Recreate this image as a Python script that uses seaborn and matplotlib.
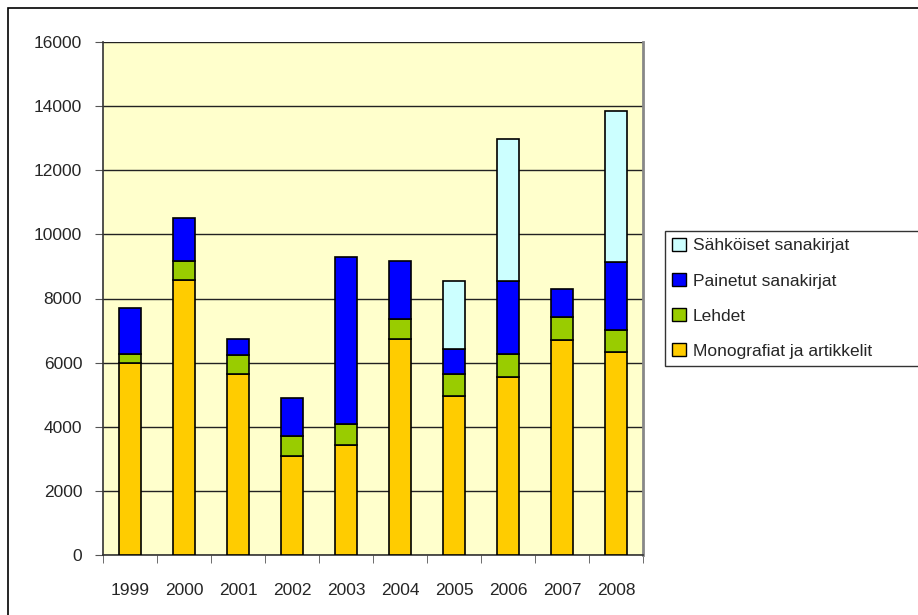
import numpy as np
import matplotlib
matplotlib.use('Agg')
import matplotlib.pyplot as plt
import matplotlib.patches as mpatches
import seaborn as sns

# Chart data
years = ['1999', '2000', '2001', '2002', '2003', '2004', '2005', '2006', '2007', '2008']
monografiat = [6000, 8580, 5650, 3090, 3430, 6730, 4960, 5540, 6720, 6330]
lehdet = [270, 590, 590, 620, 650, 630, 680, 730, 690, 680]
painetut = [1430, 1340, 500, 1190, 5210, 1820, 800, 2270, 890, 2120]
sahkoiset = [0, 0, 0, 0, 0, 0, 2100, 4430, 0, 4720]

series_names = ['Monografiat ja artikkelit', 'Lehdet', 'Painetut sanakirjat', 'Sähköiset sanakirjat']
colors = ['#FFCC00', '#99CC00', '#0000FF', '#CCFFFF']

sns.set_style('white')
plt.rcParams['font.family'] = ['Liberation Sans', 'DejaVu Sans']

fig = plt.figure(figsize=(9.18, 6.15), dpi=100)
ax = fig.add_axes([103 / 918, 60 / 615, 540 / 918, 513 / 615])
ax.set_facecolor('#FFFFCC')

layers = [monografiat, lehdet, painetut, sahkoiset]
bottom = np.zeros(len(years))
for vals, col in zip(layers, colors):
    vals = np.array(vals, dtype=float)
    keep = vals > 0
    sns.barplot(x=[y for y, k in zip(years, keep) if k], y=vals[keep],
                bottom=bottom[keep], order=years, color=col, width=0.41,
                edgecolor='black', linewidth=1.2, saturation=1, ax=ax, zorder=3)
    bottom += vals

ax.set_ylim(0, 16000)
ax.set_xlim(-0.5, len(years) - 0.5)
ax.set_yticks(np.arange(0, 16001, 2000))
ax.yaxis.grid(True, color='#222222', linewidth=1)
ax.set_axisbelow(True)
ax.set_xlabel('')
ax.set_ylabel('')

# x ticks between categories
ax.set_xticks(np.arange(len(years)))
ax.set_xticklabels(years)
ax.set_xticks(np.arange(-0.5, len(years), 1), minor=True)
ax.tick_params(axis='x', which='major', length=0, pad=20, labelsize=12.5)
ax.tick_params(axis='x', which='minor', length=6, color='#555555', direction='out')
ax.tick_params(axis='y', length=6, color='#555555', direction='out', labelsize=12.5, pad=9)
ax.tick_params(axis='both', bottom=True, left=True, which='both')

for side in ['left', 'bottom']:
    ax.spines[side].set_color('#333333')
    ax.spines[side].set_linewidth(1.2)
ax.spines['right'].set_color('#888888')
ax.spines['right'].set_linewidth(2)
ax.spines['top'].set_visible(False)

# legend, top series first
handles = [mpatches.Patch(facecolor=c, edgecolor='black', label=n)
           for n, c in zip(series_names, colors)][::-1]
leg = fig.legend(handles=handles, loc='upper left',
                 bbox_to_anchor=(665 / 918, 1 - 237 / 615, 0.3, 0.01), mode='expand',
                 fontsize=12.5, frameon=True, fancybox=False,
                 handlelength=0.8, handleheight=0.8, handletextpad=0.4,
                 labelspacing=1.12, borderpad=0.4, borderaxespad=0)
leg.get_frame().set_edgecolor('black')
leg.get_frame().set_linewidth(1)

# outer chart border
fig.patches.append(mpatches.Rectangle((8 / 918, -0.05), 1.0, 1.05 - 8 / 615,
                                      transform=fig.transFigure, fill=False,
                                      edgecolor='black', linewidth=1.2))

fig.savefig('out.png', dpi=100)
